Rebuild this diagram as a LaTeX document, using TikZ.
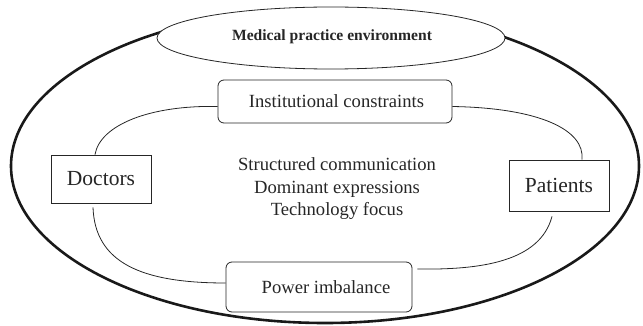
\documentclass[tikz,border=0pt]{standalone}
\usepackage{fontspec}
\setmainfont{Liberation Serif}
\usetikzlibrary{calc,shapes.geometric}
\begin{document}
\begin{tikzpicture}[x=1pt,y=-1pt,
  thinline/.style={line width=0.8pt, draw=black!85},
  roundbox/.style={thinline, rounded corners=6pt, fill=white, inner sep=0pt},
  actorbox/.style={thinline, fill=white, inner sep=0pt, minimum width=100pt},
  boxtext/.style={font=\fontsize{18.6}{22}\selectfont, text=black!85},
  conn/.style={thinline}]
\useasboundingbox (0,0) rectangle (643,326);
% outer environment ellipse
\draw[line width=2.6pt, black!90] (325,166) ellipse [x radius=314, y radius=157];
% top ellipse
\node[draw=black!85, line width=0.8pt, fill=white, ellipse, minimum width=348pt, minimum height=62pt, inner sep=0pt] (env) at (331,38) {};
\node[font=\fontsize{15.6}{18}\selectfont\bfseries, text=black!85] (envt) at (332,37) {Medical practice environment};
% boxes
\node[roundbox, boxtext, minimum width=234pt, minimum height=43pt] (inst) at (335,101.5) {\hspace*{3pt}Institutional constraints};
\node[roundbox, boxtext, minimum width=186pt, minimum height=50pt] (pow) at (319,287) {\hspace*{14pt}Power imbalance};
\node[actorbox, minimum height=48pt, font=\fontsize{21.5}{24}\selectfont, text=black!85] (doc) at (101,179) {Doctors};
\node[actorbox, minimum height=51pt, font=\fontsize{21.5}{24}\selectfont, text=black!85] (pat) at (559,185.5) {Patients};
% center text
\node[boxtext, align=center, font=\fontsize{18.6}{22.5}\selectfont] (mid) at (337,189) {Structured communication\\Dominant expressions\\Technology focus};
% connectors
\draw[conn] ($(inst.west)+(0,5)$) .. controls (150,105) and (100,125) .. ($(doc.north)+(-6,0)$);
\draw[conn] ($(inst.east)+(0,5)$) .. controls (540,108) and (585,130) .. ($(pat.north)+(23,0)$);
\draw[conn] ($(doc.south)+(-8,4)$) .. controls (95,262) and (140,283) .. ($(pow.west)+(0,-4)$);
\draw[conn] ($(pat.south)+(-7,5)$) .. controls (540,262) and (480,270) .. ($(pow.east)+(5,-18)$);
\end{tikzpicture}
\end{document}
